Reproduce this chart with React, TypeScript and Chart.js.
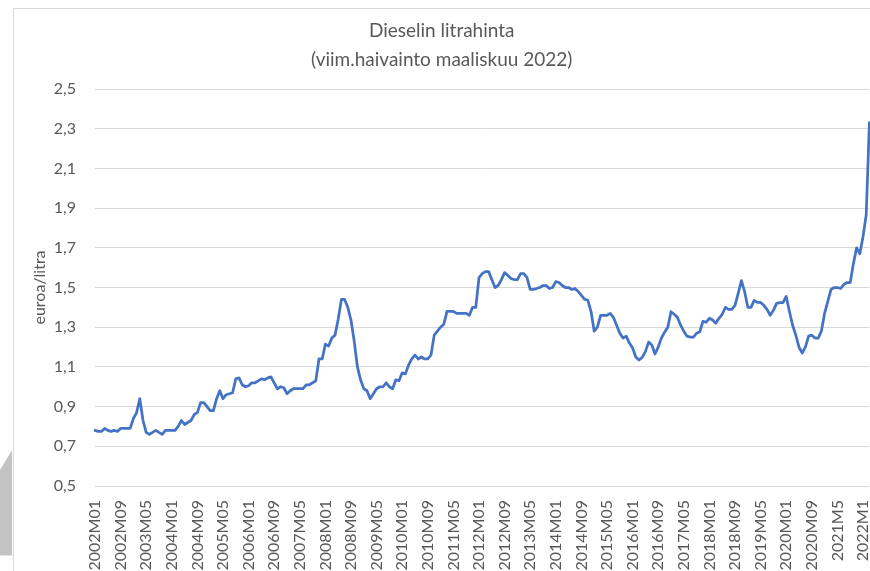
import React, { useEffect, useRef } from "react";
import { Chart, registerables } from "chart.js";

Chart.register(...registerables);

// Monthly diesel price (euro/litre), 2002M01 .. 2022M03
const d2002 = [0.78, 0.775, 0.775, 0.79, 0.78, 0.775, 0.78, 0.775, 0.79, 0.79, 0.79, 0.79];
const d2003 = [0.84, 0.87, 0.94, 0.83, 0.77, 0.76, 0.77, 0.78, 0.77, 0.76, 0.78, 0.78];
const d2004 = [0.78, 0.78, 0.8, 0.83, 0.81, 0.82, 0.83, 0.86, 0.87, 0.92, 0.92, 0.9];
const d2005 = [0.88, 0.88, 0.94, 0.98, 0.94, 0.96, 0.965, 0.97, 1.04, 1.045, 1.01, 1.0];
const d2006 = [1.005, 1.02, 1.02, 1.03, 1.04, 1.035, 1.045, 1.05, 1.02, 0.99, 1.0, 0.995];
const d2007 = [0.965, 0.98, 0.99, 0.99, 0.99, 0.99, 1.01, 1.01, 1.02, 1.03, 1.14, 1.14];
const d2008 = [1.215, 1.205, 1.245, 1.26, 1.34, 1.44, 1.44, 1.4, 1.335, 1.23, 1.1, 1.035];
const d2009 = [0.99, 0.98, 0.94, 0.965, 0.99, 1.0, 1.0, 1.02, 1.0, 0.99, 1.035, 1.03];
const d2010 = [1.07, 1.065, 1.11, 1.14, 1.16, 1.14, 1.15, 1.14, 1.14, 1.16, 1.26, 1.28];
const d2011 = [1.3, 1.315, 1.38, 1.38, 1.38, 1.37, 1.37, 1.37, 1.37, 1.36, 1.4, 1.4];
const d2012 = [1.55, 1.57, 1.58, 1.58, 1.54, 1.5, 1.51, 1.54, 1.575, 1.56, 1.545, 1.54];
const d2013 = [1.54, 1.57, 1.57, 1.55, 1.49, 1.49, 1.495, 1.5, 1.51, 1.51, 1.495, 1.5];
const d2014 = [1.53, 1.525, 1.51, 1.5, 1.5, 1.49, 1.495, 1.48, 1.46, 1.44, 1.437, 1.38];
const d2015 = [1.28, 1.3, 1.36, 1.36, 1.36, 1.37, 1.35, 1.31, 1.27, 1.245, 1.255, 1.22];
const d2016 = [1.195, 1.15, 1.135, 1.148, 1.177, 1.225, 1.21, 1.165, 1.2, 1.245, 1.275, 1.3];
const d2017 = [1.378, 1.365, 1.35, 1.31, 1.28, 1.255, 1.25, 1.25, 1.27, 1.277, 1.33, 1.325];
const d2018 = [1.345, 1.336, 1.32, 1.345, 1.365, 1.4, 1.39, 1.39, 1.41, 1.47, 1.535, 1.48];
const d2019 = [1.4, 1.4, 1.435, 1.425, 1.425, 1.41, 1.39, 1.36, 1.385, 1.42, 1.424, 1.424];
const d2020 = [1.455, 1.38, 1.31, 1.26, 1.2, 1.17, 1.2, 1.255, 1.26, 1.245, 1.245, 1.28];
const d2021 = [1.37, 1.43, 1.49, 1.5, 1.5, 1.495, 1.515, 1.525, 1.525, 1.62, 1.7, 1.67];
const d2022 = [1.756, 1.865, 2.33];

const yearSeries = [
  d2002, d2003, d2004, d2005, d2006, d2007, d2008, d2009, d2010, d2011, d2012,
  d2013, d2014, d2015, d2016, d2017, d2018, d2019, d2020, d2021, d2022,
];
const firstYear = 2002;
const labelEvery = 8;
const yTickValues = [0.5, 0.7, 0.9, 1.1, 1.3, 1.5, 1.7, 1.9, 2.1, 2.3, 2.5];

const titleLines = ["Dieselin litrahinta", "(viim.haivainto maaliskuu 2022)"];
const yAxisTitle = "euroa/litra";

const values: number[] = [];
const categories: string[] = [];
yearSeries.forEach((arr, yi) => {
  const year = firstYear + yi;
  arr.forEach((v, mi) => {
    values.push(v);
    const m = mi + 1;
    const mm = year >= 2021 ? String(m) : String(m).padStart(2, "0");
    categories.push(`${year}M${mm}`);
  });
});

const FONT = "Lato, 'Open Sans', sans-serif";
const TEXT = "#595959";
const GRID = "#d9d9d9";

export default function App() {
  const ref = useRef<HTMLCanvasElement | null>(null);

  useEffect(() => {
    if (!ref.current) return;
    const chart = new Chart(ref.current, {
      type: "line",
      data: {
        labels: categories,
        datasets: [
          {
            data: values,
            borderColor: "#4472C4",
            borderWidth: 2.75,
            pointRadius: 0,
            tension: 0,
            fill: false,
            borderJoinStyle: "round",
            borderCapStyle: "round",
          },
        ],
      },
      options: {
        animation: false,
        responsive: false,
        layout: { padding: { left: 0, right: 12.6, top: 0, bottom: 0 } },
        plugins: {
          legend: { display: false },
          tooltip: { enabled: false },
          title: {
            display: true,
            text: titleLines,
            color: TEXT,
            font: { family: FONT, size: 19, weight: "normal", lineHeight: 29 / 19 },
            padding: { top: 7.5, bottom: 14.5 },
          },
        },
        scales: {
          x: {
            type: "category",
            grid: { display: false, drawTicks: false },
            border: { display: false },
            ticks: {
              autoSkip: false,
              minRotation: 90,
              maxRotation: 90,
              padding: 14,
              color: TEXT,
              font: { family: FONT, size: 16 },
              callback: (_v: any, idx: number) => (idx % labelEvery === 0 ? categories[idx] : null),
            },
            afterFit: (scale: any) => {
              scale.height = 85;
              scale.paddingLeft = 0;
              scale.paddingRight = 0;
            },
          },
          y: {
            type: "linear",
            min: 0.5,
            max: 2.5,
            grid: { color: GRID, lineWidth: 1, drawTicks: false },
            border: { display: false },
            afterBuildTicks: (scale: any) => {
              scale.ticks = yTickValues.map((v) => ({ value: v }));
            },
            ticks: {
              padding: 19,
              color: TEXT,
              font: { family: FONT, size: 16 },
              callback: (v: any) => Number(v).toFixed(1).replace(".", ","),
            },
            title: {
              display: true,
              text: yAxisTitle,
              color: TEXT,
              font: { family: FONT, size: 16 },
              padding: { top: 16, bottom: 0 },
            },
            afterFit: (scale: any) => {
              scale.width = 81;
            },
          },
        },
      },
    });
    return () => chart.destroy();
  }, []);

  return (
    <div
      style={{
        position: "fixed",
        left: 0,
        top: 0,
        width: 870,
        height: 571,
        overflow: "hidden",
        background: "#ffffff",
      }}
    >
      <div
        style={{
          position: "absolute",
          left: 0,
          top: 450,
          width: 12,
          height: 105,
          background: "#c3c3c3",
          clipPath: "polygon(0 20px, 100% 0, 100% 100%, 0 100%)",
        }}
      />
      <div style={{ position: "absolute", left: 0, top: 555, width: 13, height: 1, background: "#e3e3e3" }} />
      <div
        style={{
          position: "absolute",
          left: 13,
          top: 8,
          width: 900,
          height: 600,
          borderLeft: "1px solid #d9d9d9",
          borderTop: "1px solid #d9d9d9",
        }}
      />
      <canvas
        ref={ref}
        width={868}
        height={562}
        style={{ position: "absolute", left: 14, top: 9, display: "block" }}
      />
    </div>
  );
}
